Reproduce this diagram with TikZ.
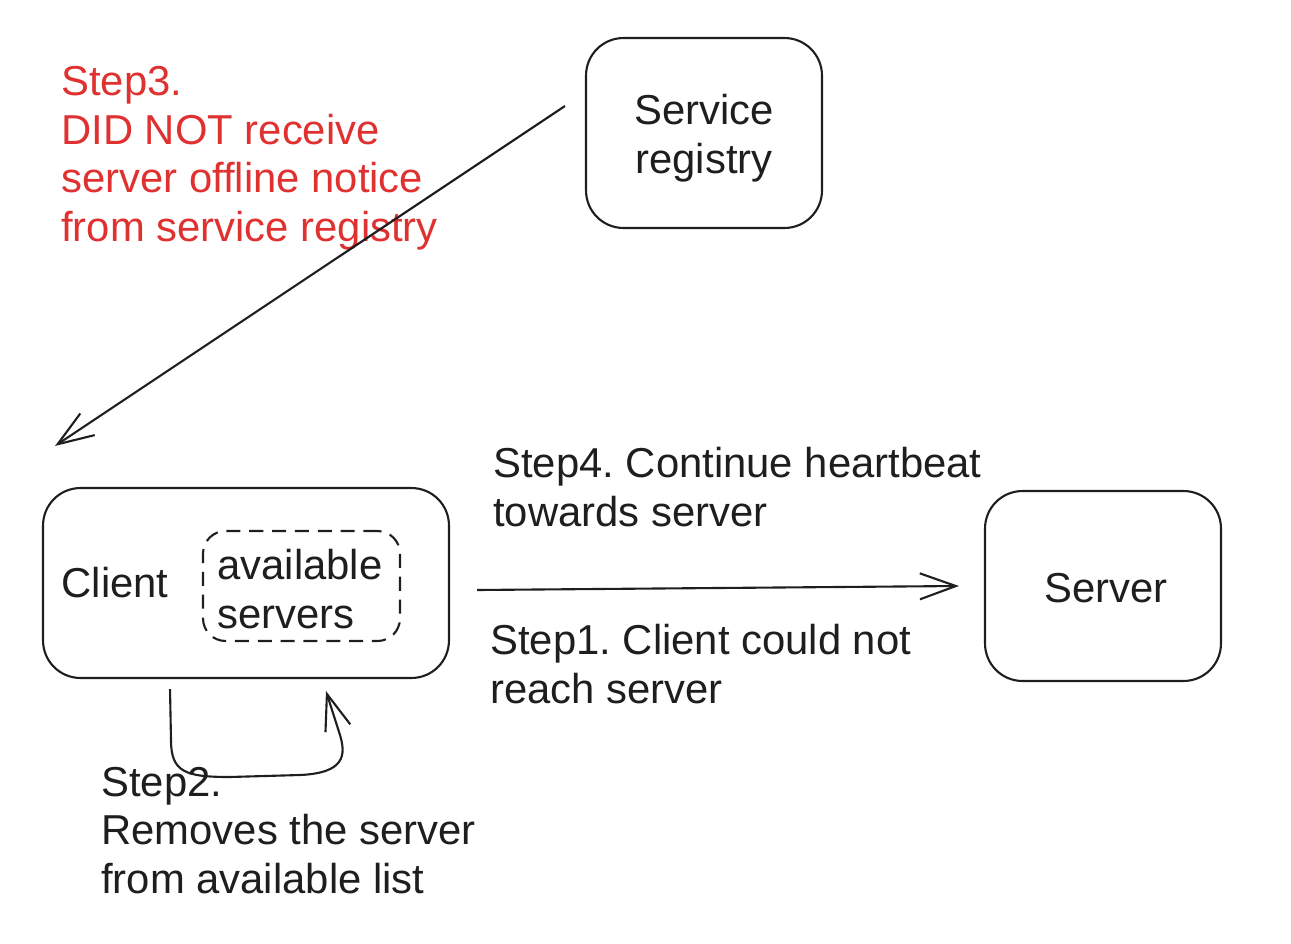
\documentclass[tikz,border=0pt]{standalone}
\usepackage{fontspec}
\setmainfont{Liberation Sans}
\usetikzlibrary{arrows.meta}
\definecolor{ink}{HTML}{1E1E1E}
\definecolor{redink}{HTML}{E03131}
\tikzset{
  every node/.style={font=\fontsize{23.8}{27.6}\selectfont\frenchspacing, text=ink},
  box/.style={draw=ink, line width=1.2pt, rounded corners=0.75cm, inner sep=0pt},
  dashbox/.style={draw=ink, line width=1.2pt, dashed, dash pattern=on 8pt off 5pt, rounded corners=0.45cm, inner sep=0pt},
  lbl/.style={anchor=base west, align=left, inner sep=0pt},
  clbl/.style={anchor=base, align=center, inner sep=0pt},
  conn/.style={draw=ink, line width=1.2pt, -{Straight Barb[length=0.72cm, width=0.52cm, line width=1.2pt]}},
}
\begin{document}
\begin{tikzpicture}[x=0.02cm, y=-0.02cm]
\useasboundingbox (0,0) rectangle (1291,943);
% boxes
\node[box, minimum width=4.72cm, minimum height=3.8cm] (registry) at (704,133) {};
\node[clbl] (registrylbl) at (704,173) {Service\\registry};
\node[box, minimum width=8.12cm, minimum height=3.8cm] (client) at (246,583) {};
\node[clbl] (clientlbl) at (115,597) {Client};
\node[dashbox, minimum width=3.94cm, minimum height=2.2cm] (avail) at (301.5,586) {};
\node[lbl] (availlbl) at (217,628) {available\\servers};
\node[box, minimum width=4.72cm, minimum height=3.8cm] (server) at (1103,586) {};
\node[clbl] (serverlbl) at (1106,602) {Server};
% labels
\node[lbl, text=redink] (step3) at (61,241) {Step3.\\DID NOT receive\\server offline notice\\from service registry};
\node[lbl] (step4) at (493,526) {Step4. Continue heartbeat\\towards server};
\node[lbl] (step1) at (490,703) {Step1. Client could not\\reach server};
\node[lbl] (step2) at (101,893) {Step2.\\Removes the server\\from available list};
% connectors
\draw[conn] ([xshift=-0.4cm, yshift=0.54cm]registry.west) -- ([xshift=0.26cm, yshift=0.82cm]client.north west);
\draw[conn] ([xshift=0.54cm, yshift=-0.14cm]client.east) -- ([xshift=-0.5cm]server.west);
\draw[conn] ([xshift=-1.52cm, yshift=-0.2cm]client.south) -- (171,740)
  .. controls (171,772) and (185,777) .. (230,777) -- (300,775)
  .. controls (345,773) and (346,755) .. (340,735) -- ([xshift=1.6cm, yshift=-0.24cm]client.south);
\end{tikzpicture}
\end{document}
